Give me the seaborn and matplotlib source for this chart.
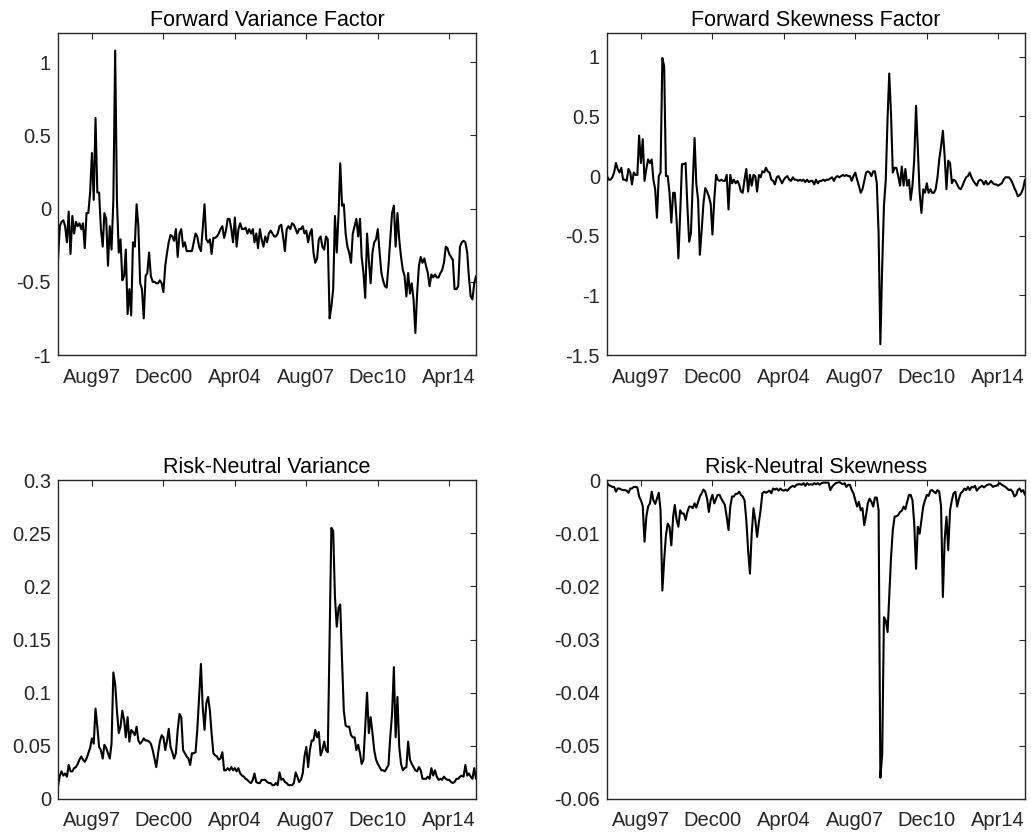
import numpy as np
import pandas as pd
import matplotlib
matplotlib.use("Agg")
import matplotlib.pyplot as plt
import matplotlib.dates as mdates
import seaborn as sns

# ---------------- data (monthly, Jan 1996 - Jul 2015) ----------------
start_month = "1996-01-01"

fwd_variance = [
    -0.35, -0.12, -0.09, -0.08, -0.12, -0.23, -0.02, -0.31, -0.05, -0.17,
    -0.09, -0.12, -0.10, -0.14, -0.10, -0.27, -0.03, -0.03, 0.11, 0.38,
    0.06, 0.62, 0.11, 0.11, -0.14, -0.26, -0.03, -0.07, -0.39, -0.12,
    -0.28, 0.06, 1.08, 0.06, -0.30, -0.21, -0.49, -0.46, -0.28, -0.72,
    -0.55, -0.73, -0.23, -0.26, 0.03, -0.12, -0.51, -0.55, -0.75, -0.46,
    -0.44, -0.30, -0.46, -0.50, -0.50, -0.51, -0.51, -0.49, -0.51, -0.57,
    -0.39, -0.30, -0.23, -0.18, -0.19, -0.22, -0.14, -0.33, -0.17, -0.14,
    -0.26, -0.23, -0.29, -0.29, -0.29, -0.29, -0.23, -0.17, -0.19, -0.26,
    -0.29, -0.14, 0.03, -0.21, -0.23, -0.21, -0.31, -0.20, -0.20, -0.19,
    -0.17, -0.14, -0.12, -0.20, -0.15, -0.07, -0.07, -0.14, -0.23, -0.06,
    -0.26, -0.14, -0.10, -0.14, -0.14, -0.13, -0.17, -0.14, -0.17, -0.14,
    -0.23, -0.17, -0.27, -0.14, -0.21, -0.26, -0.19, -0.23, -0.17, -0.15,
    -0.17, -0.19, -0.19, -0.17, -0.12, -0.11, -0.19, -0.29, -0.14, -0.12,
    -0.14, -0.10, -0.11, -0.14, -0.17, -0.14, -0.14, -0.12, -0.17, -0.15,
    -0.23, -0.17, -0.14, -0.30, -0.37, -0.34, -0.21, -0.19, -0.26, -0.28,
    -0.19, -0.21, -0.75, -0.67, -0.55, -0.05, -0.30, -0.03, 0.31, 0.02,
    0.03, -0.17, -0.26, -0.30, -0.37, -0.17, -0.12, -0.07, -0.19, -0.07,
    -0.33, -0.44, -0.61, -0.17, -0.35, -0.51, -0.30, -0.23, -0.21, -0.14,
    -0.30, -0.44, -0.49, -0.53, -0.54, -0.39, -0.21, -0.03, 0.02, -0.26,
    -0.03, -0.21, -0.33, -0.42, -0.46, -0.60, -0.44, -0.58, -0.51, -0.62,
    -0.85, -0.58, -0.39, -0.33, -0.37, -0.34, -0.39, -0.44, -0.53, -0.45,
    -0.47, -0.45, -0.47, -0.47, -0.44, -0.42, -0.37, -0.26, -0.27, -0.31,
    -0.33, -0.35, -0.55, -0.55, -0.53, -0.26, -0.23, -0.22, -0.23, -0.30,
    -0.46, -0.60, -0.62, -0.51, -0.46,
]

fwd_skewness = [
    0.00, -0.03, -0.03, -0.01, 0.03, 0.11, 0.06, 0.03, 0.07, -0.03,
    -0.03, -0.04, 0.06, 0.03, -0.07, 0.03, 0.01, 0.01, 0.34, 0.11,
    0.31, -0.04, 0.06, 0.14, 0.11, 0.14, -0.03, -0.11, -0.35, 0.00,
    0.03, 0.99, 0.92, 0.00, 0.00, -0.14, -0.39, -0.14, -0.14, -0.37,
    -0.69, -0.31, 0.10, 0.10, 0.11, -0.25, -0.55, -0.48, -0.06, 0.32,
    -0.06, -0.20, -0.66, -0.45, -0.23, -0.10, -0.13, -0.17, -0.23, -0.49,
    -0.20, 0.01, -0.03, -0.04, -0.03, -0.04, -0.04, 0.01, -0.28, 0.01,
    -0.06, -0.03, -0.06, -0.04, -0.07, -0.13, -0.14, -0.03, 0.06, -0.13,
    0.01, -0.08, 0.01, 0.00, -0.13, 0.01, -0.01, 0.04, 0.03, 0.07,
    0.04, 0.03, -0.03, -0.04, -0.07, -0.01, 0.00, -0.03, -0.06, -0.03,
    -0.01, 0.00, -0.03, -0.04, -0.01, -0.03, -0.03, -0.04, -0.03, -0.04,
    -0.03, -0.05, -0.03, -0.05, -0.04, -0.04, -0.07, -0.03, -0.06, -0.04,
    -0.04, -0.03, -0.04, -0.03, -0.03, -0.02, -0.01, -0.04, -0.01, 0.00,
    -0.01, 0.00, 0.01, 0.00, 0.01, 0.00, 0.00, -0.04, 0.00, 0.03,
    -0.03, -0.08, -0.14, -0.11, -0.04, 0.03, 0.04, 0.03, 0.00, 0.04,
    0.04, -0.06, -0.48, -1.41, -0.76, -0.25, -0.03, 0.49, 0.86, 0.51,
    0.03, 0.07, 0.07, 0.00, -0.08, 0.08, -0.08, 0.06, -0.08, -0.03,
    -0.20, -0.08, 0.14, 0.59, 0.23, -0.14, -0.31, -0.11, -0.14, -0.06,
    -0.14, -0.11, -0.14, -0.14, -0.11, -0.01, 0.14, 0.25, 0.38, 0.17,
    -0.11, 0.13, 0.11, -0.06, -0.03, -0.04, -0.07, -0.10, -0.11, -0.08,
    -0.04, -0.01, 0.00, 0.03, -0.01, -0.04, -0.06, -0.08, -0.04, -0.03,
    -0.04, -0.07, -0.04, -0.07, -0.06, -0.04, -0.06, -0.07, -0.07, -0.08,
    -0.07, -0.06, -0.03, -0.01, -0.01, -0.01, -0.03, -0.06, -0.10, -0.13,
    -0.17, -0.16, -0.14, -0.10, -0.03,
]

rn_variance = [
    0.012, 0.022, 0.026, 0.022, 0.024, 0.021, 0.032, 0.026, 0.026, 0.029,
    0.030, 0.033, 0.037, 0.040, 0.037, 0.035, 0.038, 0.043, 0.048, 0.057,
    0.052, 0.085, 0.068, 0.049, 0.046, 0.038, 0.051, 0.048, 0.043, 0.038,
    0.052, 0.119, 0.108, 0.083, 0.062, 0.068, 0.083, 0.074, 0.058, 0.077,
    0.054, 0.065, 0.063, 0.060, 0.068, 0.055, 0.052, 0.054, 0.057, 0.055,
    0.055, 0.054, 0.052, 0.046, 0.038, 0.030, 0.043, 0.054, 0.060, 0.058,
    0.046, 0.055, 0.066, 0.049, 0.044, 0.038, 0.043, 0.065, 0.080, 0.077,
    0.046, 0.043, 0.040, 0.038, 0.032, 0.043, 0.043, 0.044, 0.065, 0.096,
    0.127, 0.087, 0.065, 0.090, 0.096, 0.083, 0.062, 0.043, 0.041, 0.040,
    0.037, 0.038, 0.044, 0.027, 0.027, 0.029, 0.027, 0.030, 0.027, 0.029,
    0.026, 0.029, 0.024, 0.022, 0.021, 0.019, 0.018, 0.016, 0.015, 0.018,
    0.024, 0.016, 0.015, 0.015, 0.018, 0.018, 0.018, 0.016, 0.015, 0.015,
    0.013, 0.013, 0.015, 0.013, 0.025, 0.018, 0.019, 0.016, 0.015, 0.013,
    0.013, 0.013, 0.015, 0.025, 0.021, 0.016, 0.018, 0.024, 0.040, 0.049,
    0.030, 0.046, 0.055, 0.055, 0.065, 0.058, 0.063, 0.041, 0.046, 0.054,
    0.046, 0.044, 0.149, 0.255, 0.252, 0.190, 0.162, 0.180, 0.183, 0.130,
    0.083, 0.069, 0.068, 0.068, 0.060, 0.058, 0.058, 0.046, 0.051, 0.043,
    0.033, 0.037, 0.068, 0.100, 0.062, 0.077, 0.062, 0.046, 0.037, 0.033,
    0.030, 0.027, 0.027, 0.026, 0.029, 0.032, 0.058, 0.080, 0.124, 0.058,
    0.096, 0.049, 0.033, 0.027, 0.029, 0.030, 0.054, 0.037, 0.033, 0.030,
    0.027, 0.026, 0.030, 0.027, 0.019, 0.019, 0.019, 0.021, 0.019, 0.029,
    0.022, 0.027, 0.021, 0.018, 0.019, 0.018, 0.021, 0.019, 0.018, 0.018,
    0.016, 0.015, 0.016, 0.019, 0.019, 0.021, 0.022, 0.021, 0.032, 0.022,
    0.024, 0.021, 0.019, 0.029, 0.019,
]

rn_skewness = [
    -0.0005, -0.0010, -0.0011, -0.0013, -0.0013, -0.0022, -0.0016, -0.0016, -0.0018, -0.0019,
    -0.0019, -0.0020, -0.0024, -0.0016, -0.0016, -0.0013, -0.0013, -0.0014, -0.0031, -0.0038,
    -0.0049, -0.0116, -0.0069, -0.0050, -0.0044, -0.0022, -0.0038, -0.0045, -0.0035, -0.0024,
    -0.0057, -0.0208, -0.0151, -0.0104, -0.0082, -0.0088, -0.0123, -0.0069, -0.0047, -0.0075,
    -0.0088, -0.0057, -0.0063, -0.0063, -0.0075, -0.0060, -0.0050, -0.0050, -0.0053, -0.0044,
    -0.0052, -0.0041, -0.0031, -0.0025, -0.0018, -0.0022, -0.0035, -0.0060, -0.0038, -0.0028,
    -0.0044, -0.0035, -0.0028, -0.0028, -0.0035, -0.0041, -0.0047, -0.0069, -0.0094, -0.0050,
    -0.0031, -0.0031, -0.0026, -0.0026, -0.0022, -0.0028, -0.0031, -0.0038, -0.0075, -0.0132,
    -0.0176, -0.0101, -0.0053, -0.0075, -0.0107, -0.0079, -0.0057, -0.0025, -0.0022, -0.0024,
    -0.0022, -0.0020, -0.0025, -0.0016, -0.0018, -0.0016, -0.0020, -0.0016, -0.0019, -0.0020,
    -0.0018, -0.0020, -0.0016, -0.0013, -0.0011, -0.0013, -0.0009, -0.0008, -0.0008, -0.0009,
    -0.0006, -0.0011, -0.0006, -0.0009, -0.0008, -0.0009, -0.0006, -0.0008, -0.0006, -0.0009,
    -0.0006, -0.0005, -0.0005, -0.0005, -0.0005, -0.0019, -0.0013, -0.0009, -0.0006, -0.0005,
    -0.0004, -0.0006, -0.0008, -0.0006, -0.0013, -0.0009, -0.0009, -0.0019, -0.0025, -0.0038,
    -0.0050, -0.0041, -0.0057, -0.0053, -0.0085, -0.0066, -0.0044, -0.0035, -0.0041, -0.0050,
    -0.0033, -0.0033, -0.0057, -0.0560, -0.0516, -0.0258, -0.0264, -0.0286, -0.0220, -0.0145,
    -0.0094, -0.0069, -0.0068, -0.0066, -0.0060, -0.0058, -0.0050, -0.0055, -0.0041, -0.0028,
    -0.0028, -0.0038, -0.0082, -0.0167, -0.0088, -0.0101, -0.0075, -0.0050, -0.0038, -0.0028,
    -0.0030, -0.0020, -0.0019, -0.0022, -0.0025, -0.0019, -0.0022, -0.0050, -0.0220, -0.0113,
    -0.0069, -0.0132, -0.0057, -0.0038, -0.0025, -0.0022, -0.0050, -0.0035, -0.0025, -0.0022,
    -0.0016, -0.0019, -0.0013, -0.0019, -0.0013, -0.0014, -0.0011, -0.0020, -0.0016, -0.0013,
    -0.0011, -0.0014, -0.0011, -0.0009, -0.0008, -0.0009, -0.0013, -0.0011, -0.0011, -0.0008,
    -0.0006, -0.0009, -0.0011, -0.0013, -0.0016, -0.0019, -0.0018, -0.0022, -0.0031, -0.0028,
    -0.0019, -0.0016, -0.0022, -0.0019, -0.0028,
]

titles = ["Forward Variance Factor", "Forward Skewness Factor",
          "Risk-Neutral Variance", "Risk-Neutral Skewness"]
tick_dates = ["1997-08-01", "2000-12-01", "2004-04-01",
              "2007-08-01", "2010-12-01", "2014-04-01"]
ylims = [(-1, 1.2), (-1.5, 1.2), (0, 0.3), (-0.06, 0)]
yticks = [[-1, -0.5, 0, 0.5, 1],
          [-1.5, -1, -0.5, 0, 0.5, 1],
          [0, 0.05, 0.1, 0.15, 0.2, 0.25, 0.3],
          [-0.06, -0.05, -0.04, -0.03, -0.02, -0.01, 0]]
ytick_labels = [["-1", "-0.5", "0", "0.5", "1"],
                ["-1.5", "-1", "-0.5", "0", "0.5", "1"],
                ["0", "0.05", "0.1", "0.15", "0.2", "0.25", "0.3"],
                ["-0.06", "-0.05", "-0.04", "-0.03", "-0.02", "-0.01", "0"]]

# ---------------- figure ----------------
sns.set_style("white")
plt.rcParams["font.family"] = ["Liberation Sans", "DejaVu Sans"]

dates = pd.date_range(start_month, periods=len(fwd_variance), freq="MS")
series = [fwd_variance, fwd_skewness, rn_variance, rn_skewness]

fig = plt.figure(figsize=(10.31, 8.40), dpi=100)
W, H = 1031, 840
boxes = [(58, 33, 476, 355), (607, 33, 1025, 355),
         (58, 480, 476, 799), (607, 480, 1025, 799)]
axcol = "#262626"

for i, (vals, box) in enumerate(zip(series, boxes)):
    x0, y0, x1, y1 = box
    ax = fig.add_axes([x0 / W, 1 - y1 / H, (x1 - x0) / W, (y1 - y0) / H])
    df = pd.DataFrame({"date": dates, "value": vals})
    sns.lineplot(data=df, x="date", y="value", ax=ax, color="black",
                 linewidth=1.5, estimator=None)
    ax.set_xlim(dates[0], dates[-1])
    ax.set_ylim(*ylims[i])
    ax.set_yticks(yticks[i])
    ax.set_yticklabels(ytick_labels[i])
    ax.set_xticks(pd.to_datetime(tick_dates))
    ax.xaxis.set_major_formatter(mdates.DateFormatter("%b%y"))
    ax.set_xlabel("")
    ax.set_ylabel("")
    ax.set_title(titles[i], fontsize=15.5, color="black", pad=5)
    for s in ax.spines.values():
        s.set_visible(True)
        s.set_color(axcol)
        s.set_linewidth(1.0)
    ax.tick_params(axis="both", which="both", direction="in", length=4,
                   width=0.8, color=axcol, labelcolor=axcol, labelsize=14.5,
                   top=True, right=True)
    ax.tick_params(axis="x", pad=9)
    ax.tick_params(axis="y", pad=5)
    ax.grid(False)

fig.savefig("out.png", dpi=100, facecolor="white")
